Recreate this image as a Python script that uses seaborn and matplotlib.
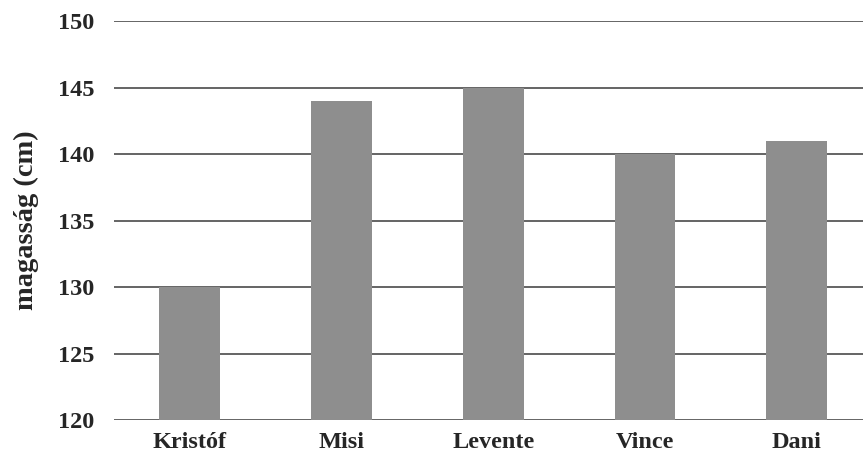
import matplotlib
matplotlib.use("Agg")
import matplotlib.pyplot as plt
import seaborn as sns
import pandas as pd

# Data
names = ["Kristóf", "Misi", "Levente", "Vince", "Dani"]
heights = [130, 144, 145, 140, 141]
y_ticks = [120, 125, 130, 135, 140, 145, 150]

df = pd.DataFrame({"name": names, "height": heights})

sns.set_theme(style="white")
plt.rcParams["font.family"] = ["Liberation Serif", "DejaVu Serif"]
plt.rcParams["font.weight"] = "bold"

fig = plt.figure(figsize=(8.63, 4.61), dpi=100)
# plot area runs a bit past the right edge, as in the cropped original
ax = fig.add_axes([0.132, 0.089, 0.879, 0.865])

sns.barplot(data=df, x="name", y="height", color="#8e8e8e", saturation=1,
            width=0.4, linewidth=0, ax=ax, zorder=3)

ax.set_ylim(120, 150)
ax.set_yticks(y_ticks)
ax.yaxis.grid(True, color="#4a4a4a", linewidth=1.2)
ax.set_axisbelow(True)
for s in ax.spines.values():
    s.set_visible(False)
ax.tick_params(axis="y", length=0, labelsize=17.5, pad=14)
ax.tick_params(axis="x", length=0, labelsize=17.5, pad=9)
for lbl in ax.get_xticklabels() + ax.get_yticklabels():
    lbl.set_fontweight("bold")
ax.set_xlabel("")
ax.set_ylabel("magasság (cm)", fontsize=20.5, fontweight="bold", labelpad=14)

fig.savefig("out.png", dpi=100)
